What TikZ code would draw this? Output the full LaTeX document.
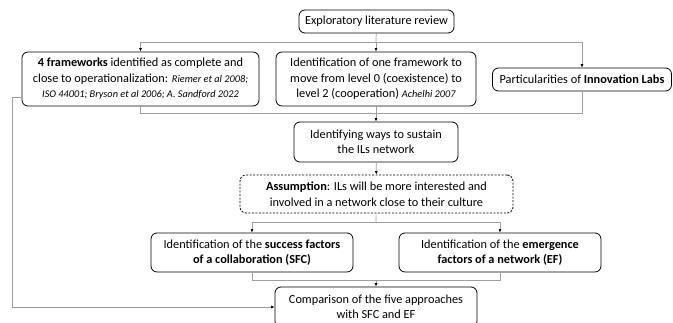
\documentclass[tikz,border=0pt]{standalone}
\usepackage{fontspec}
\setmainfont{Carlito}
\usetikzlibrary{arrows.meta}
\definecolor{linegray}{gray}{0.62}
\newcommand{\refit}[1]{{\fontsize{10.3}{15}\selectfont\itshape #1}}
\begin{document}
\begin{tikzpicture}
        [x=1pt, y=-1pt,
        box/.style={draw, line width=0.8pt, rounded corners=6pt, align=center, inner sep=2pt, font=\fontsize{12.3}{15.5}\selectfont},
        dashbox/.style={box, dash pattern=on 2pt off 1.5pt},
        conn/.style={linegray, line width=0.7pt},
        arr/.style={conn, -{Latex[length=3.5pt, width=3pt, color=black]}}]

        \useasboundingbox (0,0) rectangle (673,323);

        \node[box, minimum width=155pt, minimum height=23pt] (top) at (376.5,21.5) {Exploratory literature review};
        \node[box, minimum width=237pt, minimum height=54pt] (fw) at (140.5,79) {\textbf{4 frameworks} identified as complete and\\ close to operationalization: \refit{Riemer et al 2008;}\\ \refit{ISO 44001; Bryson et al 2006; A. Sandford 2022}};
        \node[box, minimum width=200pt, minimum height=54pt] (one) at (376,79) {Identification of one framework to\\ move from level 0 (coexistence) to\\ level 2 (cooperation) \refit{Achelhi 2007}};
        \node[box, minimum width=179pt, minimum height=23pt] (labs) at (582,79.5) {Particularities of \textbf{Innovation Labs}};
        \node[box, minimum width=164pt, minimum height=40pt] (ways) at (376,142) {Identifying ways to sustain\\ the ILs network};
        \node[dashbox, minimum width=273pt, minimum height=38pt] (assump) at (376.5,194) {\textbf{Assumption}: ILs will be more interested and\\ involved in a network close to their culture};
        \node[box, minimum width=202pt, minimum height=39pt] (sfc) at (252,252.5) {Identification of the \textbf{success factors}\\ \textbf{of a collaboration (SFC)}};
        \node[box, minimum width=202pt, minimum height=39pt] (ef) at (500,252.5) {Identification of the \textbf{emergence}\\ \textbf{factors of a network (EF)}};
        \node[box, minimum width=202pt, minimum height=40pt] (comp) at (376,307) {Comparison of the five approaches\\ with SFC and EF};

        % split and merge points
        \coordinate (t1) at (376,42);
        \coordinate (t2) at (376,113);
        \coordinate (t3) at (376,222);
        \coordinate (t4) at (376,280);
        \coordinate (t5) at (12,97);

        % from the review to the three studies
        \draw[conn] (top) -- (t1);
        \draw[arr] (t1) -| (fw.north);
        \draw[arr] (t1) -- (one);
        \draw[arr] (t1) -| (labs.north);

        % merging into ways
        \draw[conn] (fw.south) |- (t2);
        \draw[conn] (labs.south) |- (t2);
        \draw[arr] (one) -- (ways);
        \draw[arr] (ways) -- (assump);

        % factors
        \draw[conn] (assump) -- (t3);
        \draw[arr] (t3) -| (sfc.north);
        \draw[arr] (t3) -| (ef.north);
        \draw[conn] (sfc.south) |- (t4);
        \draw[conn] (ef.south) |- (t4);
        \draw[arr] (t4) -- (comp);

        % frameworks straight to comparison
        \draw[arr] ([yshift=-18pt]fw.west) -- (t5) |- (comp.west);

        \end{tikzpicture}
\end{document}
